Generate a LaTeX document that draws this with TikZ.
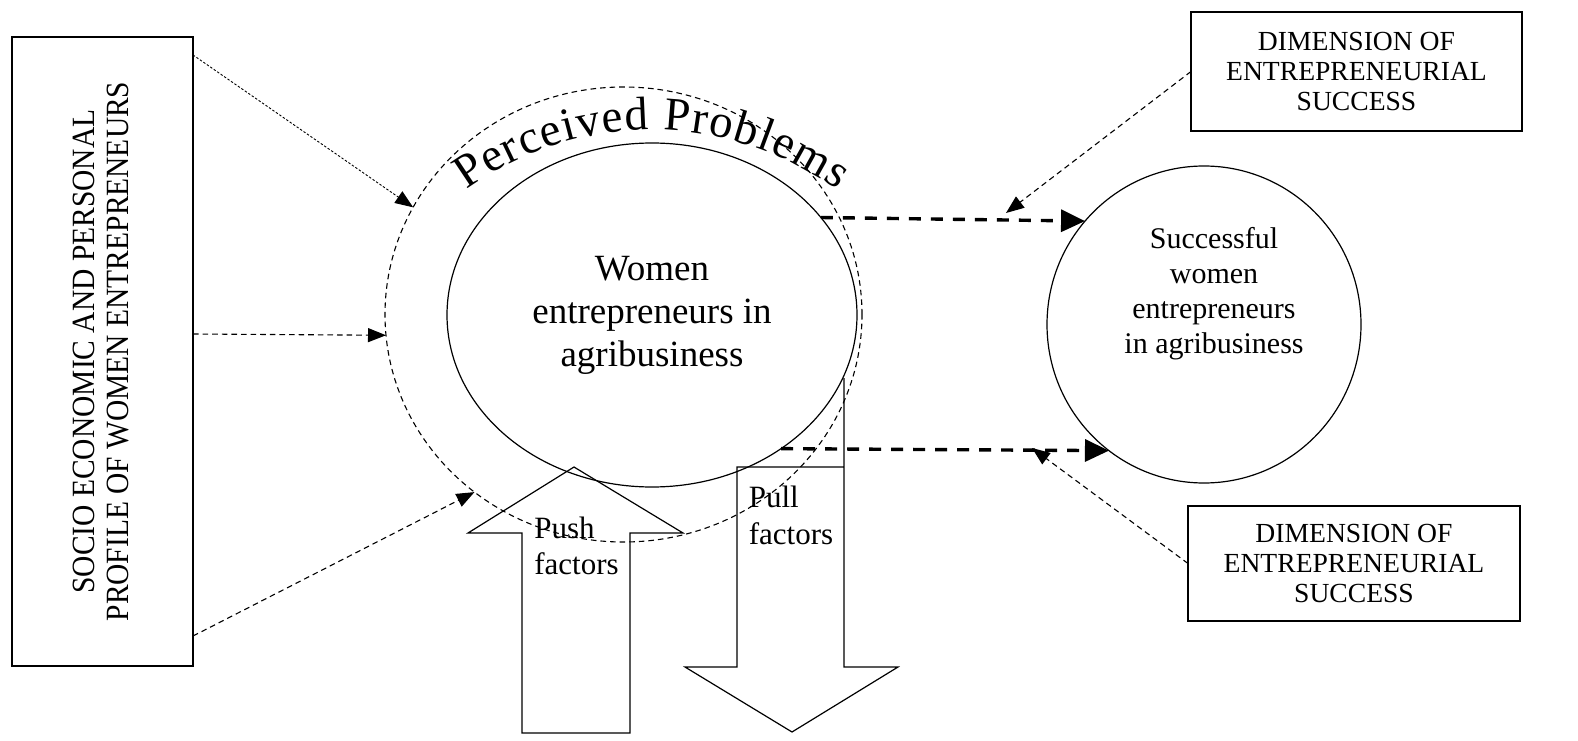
\documentclass[tikz,border=0pt]{standalone}
\usepackage{fontspec}
\setmainfont{Liberation Serif}
\usetikzlibrary{arrows.meta,shapes.geometric,decorations.text}
\begin{document}
\begin{tikzpicture}[x=0.5pt,y=0.5pt,
  thindash/.style={line width=0.55pt, dash pattern=on 2.8pt off 2pt},
  finedot/.style={line width=0.45pt, dash pattern=on 1.2pt off 0.9pt},
  thickdash/.style={line width=1.7pt, dash pattern=on 6pt off 5pt},
  smalltip/.style={-{Triangle[length=9pt,width=7pt]}},
  bigtip/.style={-{Triangle[length=12pt,width=11pt]}},
  boxnode/.style={draw, line width=0.6pt, inner sep=0pt, outer sep=0pt},
  solidline/.style={line width=0.6pt}]
\useasboundingbox (0,0) rectangle (1578,740);

% left box
\node[boxnode, minimum width=90.5pt, minimum height=314.5pt] (profile) at (102.5,388.5) {};
\node[rotate=90, inner sep=0pt, font=\fontsize{16.2}{17}\selectfont] (profiletext) at (105,388.5)
  {\scalebox{0.91}[1]{\begin{tabular}{@{}c@{}}SOCIO ECONOMIC AND PERSONAL\\PROFILE OF WOMEN ENTREPRENEURS\end{tabular}}};

% ellipses
\node[ellipse, draw, thindash, minimum width=238.5pt, minimum height=227.5pt, inner sep=0pt, outer sep=0pt] (outer) at (623.5,425.5) {};
\node[ellipse, draw, solidline, minimum width=205pt, minimum height=172pt, inner sep=0pt, outer sep=0pt,
  align=center, font=\fontsize{18.5}{21.5}\selectfont] (inner) at (652,425) {Women\\entrepreneurs in\\agribusiness};

\path[decorate, decoration={text along path, text={|\fontsize{23.5}{24}\selectfont|Perceived Problems}, text align={fit to path}}]
  (466.8,549.8) arc[start angle=126, end angle=54, radius=315];

% right circle
\node[ellipse, draw, solidline, minimum width=157pt, minimum height=158.5pt, inner sep=0pt, outer sep=0pt] (success) at (1204,415.5) {};
\node[align=center, inner sep=0pt, font=\fontsize{15}{17.5}\selectfont] (successtext) at (1214,446)
  {Successful\\women\\entrepreneurs\\in agribusiness};

% dimension boxes
\node[boxnode, minimum width=165.5pt, minimum height=59.5pt, align=center, font=\fontsize{13.8}{15}\selectfont] (dimtop) at (1356.5,668.5)
  {DIMENSION OF\\ENTREPRENEURIAL\\SUCCESS};
\node[boxnode, minimum width=166pt, minimum height=57.5pt, align=center, font=\fontsize{13.8}{15}\selectfont] (dimbot) at (1354,176.5)
  {DIMENSION OF\\ENTREPRENEURIAL\\SUCCESS};

% push and pull arrows
\draw[solidline] (574,273) -- (683,207) -- (630,207) -- (630,7) -- (522,7) -- (522,207) -- (468,207) -- cycle;
\draw[solidline] (844,362) -- (844,73) -- (898,73) -- (792,8) -- (685,73) -- (737,73) -- (737,273) -- (844,273);
\node[align=left, inner sep=0pt, font=\fontsize{15.5}{18}\selectfont] (pushtext) at (576.5,194) {Push\\factors};
\node[align=left, inner sep=0pt, font=\fontsize{15.5}{18.5}\selectfont] (pulltext) at (791,225) {Pull\\factors};

% connectors from left box
\draw[finedot, smalltip] ([yshift=-9pt]profile.north east) -- (outer.153);
\draw[thindash, smalltip] ([yshift=8.75pt]profile.east) -- (outer.185);
\draw[thindash, smalltip] ([yshift=15pt]profile.south east) -- (outer.230);

% thick dashed arrows
\draw[thickdash, bigtip] (inner.30) -- (success.139);
\draw[thickdash, bigtip] (inner.-46) -- (success.233);

% dimension connectors
\coordinate (dtTip) at (1006,527);
\coordinate (dbTip) at (1032,292);
\draw[thindash, smalltip] (dimtop.west) -- (dtTip);
\draw[thindash, smalltip] (dimbot.west) -- (dbTip);
\end{tikzpicture}
\end{document}
